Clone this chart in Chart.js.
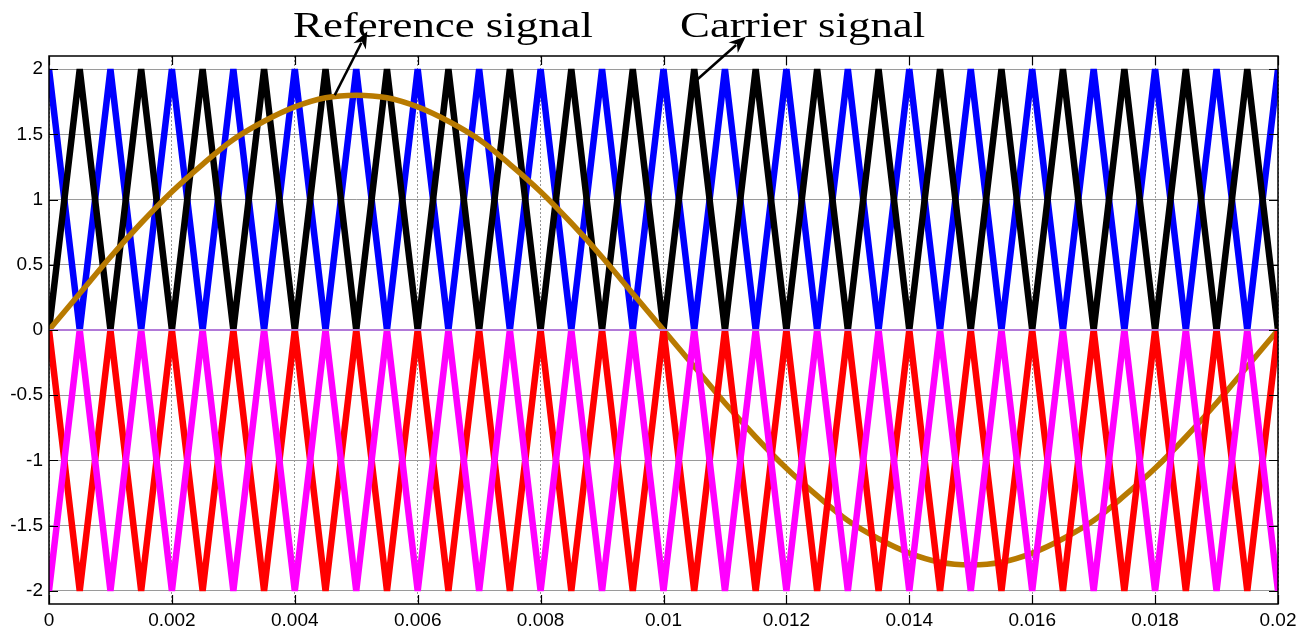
<!DOCTYPE html>
<html>
<head>
<meta charset="utf-8">
<title>Carrier-based PWM signals</title>
<script src="https://cdn.jsdelivr.net/npm/chart.js@4.4.1/dist/chart.umd.min.js"></script>
<style>
  html, body { margin: 0; padding: 0; background: #ffffff; }
  #wrap { width: 1307px; height: 629px; }
</style>
</head>
<body>
<div id="wrap"><canvas id="pwm" width="1307" height="629"></canvas></div>
<script>
// Time instants of the carrier vertices (s), one every half carrier period
const timeVertices = [
  0, 0.0005, 0.001, 0.0015, 0.002, 0.0025, 0.003, 0.0035, 0.004, 0.0045,
  0.005, 0.0055, 0.006, 0.0065, 0.007, 0.0075, 0.008, 0.0085, 0.009, 0.0095,
  0.01, 0.0105, 0.011, 0.0115, 0.012, 0.0125, 0.013, 0.0135, 0.014, 0.0145,
  0.015, 0.0155, 0.016, 0.0165, 0.017, 0.0175, 0.018, 0.0185, 0.019, 0.0195,
  0.02
];

// Upper carriers (0 .. 2)
const carrierBlue = [
  2, 0, 2, 0, 2, 0, 2, 0, 2, 0, 2, 0, 2, 0, 2, 0, 2, 0, 2, 0,
  2, 0, 2, 0, 2, 0, 2, 0, 2, 0, 2, 0, 2, 0, 2, 0, 2, 0, 2, 0, 2
];
const carrierBlack = [
  0, 2, 0, 2, 0, 2, 0, 2, 0, 2, 0, 2, 0, 2, 0, 2, 0, 2, 0, 2,
  0, 2, 0, 2, 0, 2, 0, 2, 0, 2, 0, 2, 0, 2, 0, 2, 0, 2, 0, 2, 0
];

// Lower carriers (-2 .. 0)
const carrierRed = [
  0, -2, 0, -2, 0, -2, 0, -2, 0, -2, 0, -2, 0, -2, 0, -2, 0, -2, 0, -2,
  0, -2, 0, -2, 0, -2, 0, -2, 0, -2, 0, -2, 0, -2, 0, -2, 0, -2, 0, -2, 0
];
const carrierMagenta = [
  -2, 0, -2, 0, -2, 0, -2, 0, -2, 0, -2, 0, -2, 0, -2, 0, -2, 0, -2, 0,
  -2, 0, -2, 0, -2, 0, -2, 0, -2, 0, -2, 0, -2, 0, -2, 0, -2, 0, -2, 0, -2
];

// Reference (modulating) signal sampled at the same instants
const referenceSignal = [
  0, 0.28, 0.56, 0.82, 1.06, 1.27, 1.46, 1.60, 1.71, 1.78,
  1.80, 1.78, 1.71, 1.60, 1.46, 1.27, 1.06, 0.82, 0.56, 0.28,
  0, -0.28, -0.56, -0.82, -1.06, -1.27, -1.46, -1.60, -1.71, -1.78,
  -1.80, -1.78, -1.71, -1.60, -1.46, -1.27, -1.06, -0.82, -0.56, -0.28,
  0
];

// Zero reference line
const zeroLineTime = [0, 0.02];
const zeroLineValue = [0, 0];

// Axis ticks
const xTickValues = [0, 0.002, 0.004, 0.006, 0.008, 0.01, 0.012, 0.014, 0.016, 0.018, 0.02];
const xTickLabels = ['0', '0.002', '0.004', '0.006', '0.008', '0.01', '0.012', '0.014', '0.016', '0.018', '0.02'];
const yTickValues = [-2, -1.5, -1, -0.5, 0, 0.5, 1, 1.5, 2];
const yTickLabels = ['-2', '-1.5', '-1', '-0.5', '0', '0.5', '1', '1.5', '2'];

// Callout labels: text plus arrow tail (on a curve) and tip (near the text), in data units
const calloutTexts = ['Reference signal', 'Carrier signal'];
const calloutTail = [[0.00465, 1.80], [0.01055, 1.92]];
const calloutTip = [[0.00518, 2.29], [0.01134, 2.25]];

const toPoints = (xs, ys) => xs.map((x, i) => ({ x: x, y: ys[i] }));

function carrierSet(label, values, color) {
  return {
    label: label,
    data: toPoints(timeVertices, values),
    borderColor: color,
    borderWidth: 6.5,
    borderJoinStyle: 'bevel',
    pointRadius: 0,
    tension: 0,
    clip: 0
  };
}

// Frame with inward tick marks, and the two callouts above the plot
const framePlugin = {
  id: 'frameAndCallouts',
  afterDraw(chart) {
    const ctx = chart.ctx;
    const a = chart.chartArea;
    const xs = chart.scales.x;
    const ys = chart.scales.y;
    ctx.save();
    ctx.strokeStyle = '#000';
    ctx.lineWidth = 1.5;
    ctx.strokeRect(a.left, a.top, a.right - a.left, a.bottom - a.top);
    ctx.lineWidth = 1.2;
    const tl = 9;
    ctx.beginPath();
    xTickValues.forEach(v => {
      const px = Math.round(xs.getPixelForValue(v)) + 0.5;
      ctx.moveTo(px, a.top); ctx.lineTo(px, a.top + tl);
      ctx.moveTo(px, a.bottom); ctx.lineTo(px, a.bottom - tl);
    });
    yTickValues.forEach(v => {
      const py = Math.round(ys.getPixelForValue(v)) + 0.5;
      ctx.moveTo(a.left, py); ctx.lineTo(a.left + tl, py);
      ctx.moveTo(a.right, py); ctx.lineTo(a.right - tl, py);
    });
    ctx.stroke();

    // Callout arrows
    calloutTail.forEach((t, i) => {
      const x0 = xs.getPixelForValue(t[0]);
      const y0 = ys.getPixelForValue(t[1]);
      const x1 = xs.getPixelForValue(calloutTip[i][0]);
      const y1 = ys.getPixelForValue(calloutTip[i][1]);
      const ang = Math.atan2(y1 - y0, x1 - x0);
      const hl = 17, hw = 7;
      const bx = x1 - hl * Math.cos(ang);
      const by = y1 - hl * Math.sin(ang);
      ctx.strokeStyle = '#000';
      ctx.fillStyle = '#000';
      ctx.lineWidth = 2.5;
      ctx.beginPath();
      ctx.moveTo(x0, y0);
      ctx.lineTo(bx + 4 * Math.cos(ang), by + 4 * Math.sin(ang));
      ctx.stroke();
      ctx.beginPath();
      ctx.moveTo(x1, y1);
      ctx.lineTo(bx + hw * Math.sin(ang), by - hw * Math.cos(ang));
      ctx.lineTo(bx + 0.3 * hl * Math.cos(ang), by + 0.3 * hl * Math.sin(ang));
      ctx.lineTo(bx - hw * Math.sin(ang), by + hw * Math.cos(ang));
      ctx.closePath();
      ctx.fill();
    });

    // Callout texts (serif, slightly widened)
    const textLeft = [293, 680];
    ctx.font = '36px "Liberation Serif", "Times New Roman", serif';
    ctx.textBaseline = 'alphabetic';
    ctx.textAlign = 'left';
    ctx.fillStyle = '#000';
    calloutTexts.forEach((txt, i) => {
      ctx.save();
      ctx.translate(textLeft[i], 37);
      ctx.scale(1.245, 1);
      ctx.fillText(txt, 0, 0);
      ctx.restore();
    });
    ctx.restore();
  }
};

// Datasets listed bottom-to-top in drawing order
const datasets = [
  carrierSet('Carrier 1', carrierBlue, '#0000ff'),
  carrierSet('Carrier 2', carrierBlack, '#000000'),
  {
    label: 'Reference signal',
    data: toPoints(timeVertices, referenceSignal),
    borderColor: '#b87a00',
    borderWidth: 5.5,
    pointRadius: 0,
    tension: 0.35,
    clip: 0
  },
  carrierSet('Carrier 3', carrierRed, '#ff0000'),
  carrierSet('Carrier 4', carrierMagenta, '#ff00ff'),
  {
    label: 'Zero',
    data: toPoints(zeroLineTime, zeroLineValue),
    borderColor: '#b27ad8',
    borderWidth: 2,
    pointRadius: 0,
    clip: 0
  }
];
// Later datasets on top
datasets.forEach((d, i) => { d.order = datasets.length - i; });

new Chart(document.getElementById('pwm'), {
  type: 'line',
  data: { datasets: datasets },
  options: {
    responsive: false,
    animation: false,
    devicePixelRatio: 1,
    layout: { padding: { top: 56, right: 29, left: 0, bottom: 0 } },
    plugins: { legend: { display: false }, tooltip: { enabled: false } },
    scales: {
      x: {
        type: 'linear',
        min: 0,
        max: 0.02,
        afterBuildTicks: s => { s.ticks = xTickValues.map(v => ({ value: v })); },
        afterFit: s => { s.height = 25; },
        ticks: {
          autoSkip: false,
          maxRotation: 0,
          padding: 5,
          color: '#000',
          font: { family: '"Liberation Sans", Arial, sans-serif', size: 19 },
          callback: (v, i) => xTickLabels[i]
        },
        grid: { color: 'rgba(130,130,130,0.85)', lineWidth: 1, drawTicks: false },
        border: { display: false, dash: [2, 2] }
      },
      y: {
        type: 'linear',
        min: -2.1,
        max: 2.1,
        afterBuildTicks: s => { s.ticks = yTickValues.map(v => ({ value: v })); },
        afterFit: s => { s.width = 49; },
        ticks: {
          padding: 6,
          color: '#000',
          font: { family: '"Liberation Sans", Arial, sans-serif', size: 19 },
          callback: (v, i) => yTickLabels[i]
        },
        grid: { color: '#9a9a9a', lineWidth: 1, drawTicks: false },
        border: { display: false }
      }
    }
  },
  plugins: [framePlugin]
});
</script>
</body>
</html>
